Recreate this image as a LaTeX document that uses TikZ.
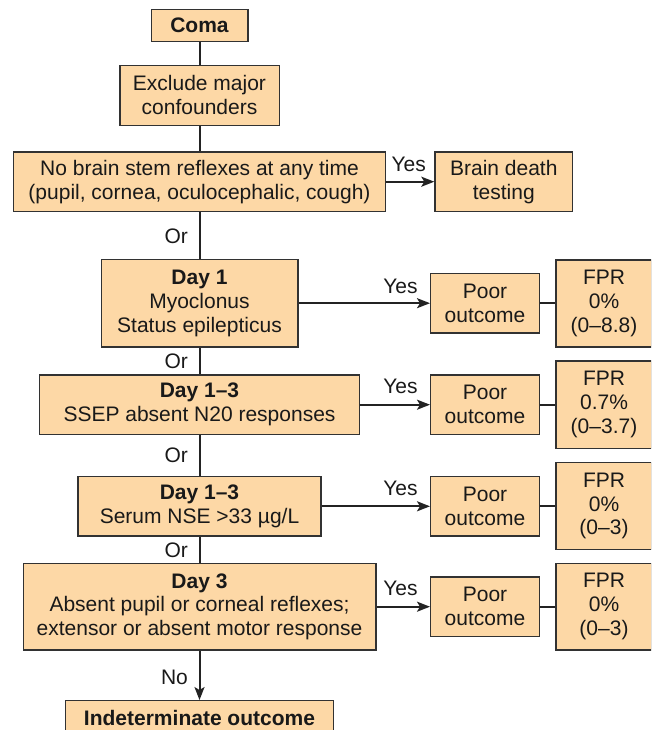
\documentclass[tikz,border=0pt]{standalone}
\usepackage{fontspec}
\setmainfont{Liberation Sans}
\usetikzlibrary{arrows.meta}
\definecolor{peach}{RGB}{253,216,166}
\definecolor{boxline}{RGB}{50,50,50}
\definecolor{conn}{RGB}{35,35,35}
\tikzset{
  box/.style={draw=boxline, fill=peach, line width=1.3pt, inner sep=0pt, align=center,
    font=\fontsize{21}{23.8}\selectfont, text=black!90},
  lbl/.style={inner sep=0pt, font=\fontsize{21}{23.8}\selectfont, text=black!90},
  line/.style={draw=conn, line width=2pt},
  arr/.style={line, -{Stealth[length=13pt,width=10pt,inset=3pt]}},
}
\begin{document}
\begin{tikzpicture}[x=1pt,y=-1pt]
\useasboundingbox (0,0) rectangle (651,730);
\clip (0,0) rectangle (651,730);
% main column
\node[box, minimum width=96.7pt, minimum height=32pt] (coma) at (199.5,25.3) {\textbf{Coma}};
\node[box, minimum width=159.3pt, minimum height=60pt] (excl) at (199.5,95.3) {Exclude major\\confounders};
\node[box, minimum width=371.7pt, minimum height=59.3pt] (nobs) at (199.5,181.7) {No brain stem reflexes at any time\\(pupil, cornea, oculocephalic, cough)};
\node[box, minimum width=137.7pt, minimum height=59.3pt] (bdt) at (503.8,181.7) {Brain death\\testing};
\node[box, minimum width=196.7pt, minimum height=87.7pt] (day1) at (199.5,303.2) {\textbf{Day 1}\\Myoclonus\\Status epilepticus};
\node[box, minimum width=319.5pt, minimum height=59.3pt] (d13a) at (199.5,404.7) {\textbf{Day 1--3}\\SSEP absent N20 responses};
\node[box, minimum width=243.1pt, minimum height=59.3pt] (d13b) at (199.5,506.3) {\textbf{Day 1--3}\\Serum NSE >33 µg/L};
\node[box, minimum width=352.7pt, minimum height=86.7pt] (day3) at (199.5,606.7) {\textbf{Day 3}\\Absent pupil or corneal reflexes;\\extensor or absent motor response};
\node[box, minimum width=268.1pt, minimum height=34pt] (indet) at (199.5,717.7) {\textbf{Indeterminate outcome}};
% poor outcome boxes
\node[box, minimum width=108.7pt, minimum height=59.3pt] (po1) at (485,303.3) {Poor\\outcome};
\node[box, minimum width=108.7pt, minimum height=59.3pt] (po2) at (485,404.7) {Poor\\outcome};
\node[box, minimum width=108.7pt, minimum height=59.3pt] (po3) at (485,506.3) {Poor\\outcome};
\node[box, minimum width=108.7pt, minimum height=59.3pt] (po4) at (485,606.5) {Poor\\outcome};
% FPR boxes
\node[box, minimum width=96pt, minimum height=87pt] (fpr1) at (604,303.5) {FPR\\0\%\\(0--8.8)};
\node[box, minimum width=96pt, minimum height=87.3pt] (fpr2) at (604,404.7) {FPR\\0.7\%\\(0--3.7)};
\node[box, minimum width=96pt, minimum height=86.6pt] (fpr3) at (604,506) {FPR\\0\%\\(0--3)};
\node[box, minimum width=96pt, minimum height=86.7pt] (fpr4) at (604,606.7) {FPR\\0\%\\(0--3)};
% vertical connectors
\draw[line] (coma.south) -- (excl.north);
\draw[line] (excl.south) -- (nobs.north);
\draw[line] (nobs.south) -- (day1.north);
\draw[line] (day1.south) -- (d13a.north);
\draw[line] (d13a.south) -- (d13b.north);
\draw[line] (d13b.south) -- (day3.north);
\draw[arr] (day3.south) -- (indet.north);
% horizontal connectors
\draw[arr] (nobs.east) -- (bdt.west);
\draw[arr] (day1.east) -- (day1.east -| po1.west);
\draw[arr] (d13a.east) -- (d13a.east -| po2.west);
\draw[arr] (d13b.east) -- (d13b.east -| po3.west);
\draw[arr] (day3.east) -- (day3.east -| po4.west);
\draw[line] (po1.east) -- (po1.east -| fpr1.west);
\draw[line] (po2.east) -- (po2.east -| fpr2.west);
\draw[line] (po3.east) -- (po3.east -| fpr3.west);
\draw[line] (po4.east) -- (po4.east -| fpr4.west);
% labels
\node[lbl] (y0) at (408.7,164) {Yes};
\node[lbl] (y1) at (400.5,286) {Yes};
\node[lbl] (y2) at (400.5,386.7) {Yes};
\node[lbl] (y3) at (400.5,488.3) {Yes};
\node[lbl] (y4) at (400.5,588.3) {Yes};
\node[lbl] (o1) at (176.3,236.7) {Or};
\node[lbl] (o2) at (176.3,361.7) {Or};
\node[lbl] (o3) at (176.3,455) {Or};
\node[lbl] (o4) at (176.3,550) {Or};
\node[lbl] (no) at (174.5,677.3) {No};
\end{tikzpicture}
\end{document}
